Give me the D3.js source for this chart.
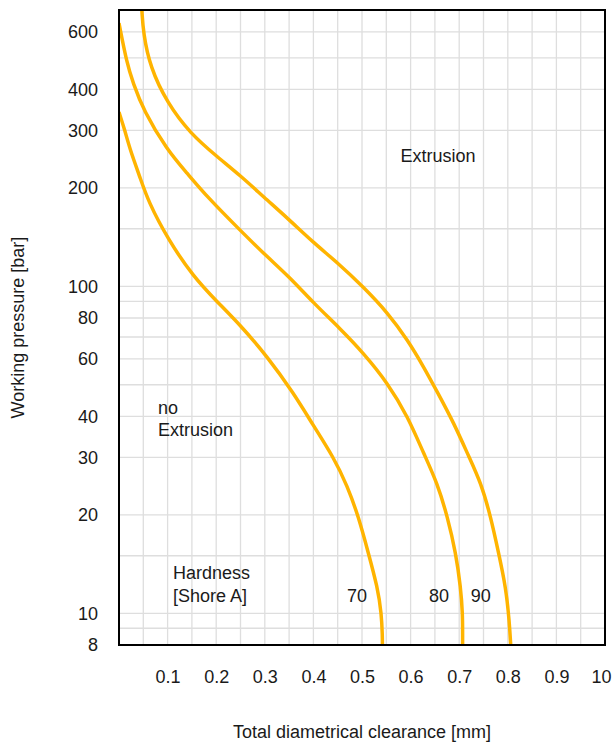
<!DOCTYPE html>
<html>
<head>
<meta charset="utf-8">
<script src="https://cdn.jsdelivr.net/npm/d3@7"></script>
<style>
    body { margin: 0; background: #fff; }
    svg text { font-family: "Liberation Sans", Arial, Helvetica, sans-serif; fill: #1a1a1a; }
</style>
</head>
<body>
<div id="chart"></div>
<script>
// clearance [mm] vs pressure [bar]
var hardness = ["70", "80", "90"];

var curve70 = [[0, 341], [0.012, 300], [0.023, 261], [0.043, 216], [0.06, 182], [0.101, 139], [0.153, 107],
    [0.201, 90], [0.25, 76], [0.305, 61], [0.359, 47.2], [0.4, 37.5],
    [0.441, 30.1], [0.47, 24.5], [0.493, 19.7], [0.513, 15.3],
    [0.532, 12.0], [0.54, 10.0], [0.542, 8.5], [0.542, 8]];

var curve80 = [[0, 638], [0.016, 482], [0.029, 419], [0.05, 346], [0.099, 261], [0.14, 222],
    [0.181, 188], [0.25, 148], [0.305, 123], [0.35, 107], [0.4, 89], [0.456, 74],
    [0.503, 62.5], [0.553, 50.6], [0.594, 40], [0.627, 30.8],
    [0.655, 25], [0.676, 19.7], [0.693, 15.3], [0.703, 12.0], [0.707, 10.0], [0.707, 8.5], [0.707, 8]];

var curve90 = [[0.047, 700], [0.05, 595], [0.064, 468], [0.099, 364], [0.146, 294], [0.202, 249],
    [0.25, 218], [0.297, 188], [0.35, 160], [0.4, 136], [0.45, 118], [0.503, 99.5],
    [0.553, 83], [0.594, 68.5], [0.627, 56.7], [0.656, 47.2], [0.689, 38.2],
    [0.72, 30.1], [0.745, 25], [0.765, 19.7], [0.781, 15.3], [0.796, 12.0], [0.803, 9.5], [0.806, 8]];

var curves = [curve70, curve80, curve90];

var xGrid = d3.range(1, 20).map(function (i) { return i * 0.05; });
var xTickValues = [0.1, 0.2, 0.3, 0.4, 0.5, 0.6, 0.7, 0.8, 0.9, 1.0];
var xTickLabels = ["0.1", "0.2", "0.3", "0.4", "0.5", "0.6", "0.7", "0.8", "0.9", "10"];

var yGrid = [9, 10, 15, 20, 30, 40, 50, 60, 70, 80, 90, 100, 150, 200, 300, 400, 500, 600];
var yTickValues = [8, 10, 20, 30, 40, 60, 80, 100, 200, 300, 400, 600];

// text notes placed at [clearance, pressure] of their first baseline
var notes = [
    {lines: ["Extrusion"], at: [0.579, 240]},
    {lines: ["no", "Extrusion"], at: [0.08, 40.7]},
    {lines: ["Hardness", "[Shore A]"], at: [0.111, 12.7]},
    {lines: [hardness[0]], at: [0.469, 10.86]},
    {lines: [hardness[1]], at: [0.638, 10.86]},
    {lines: [hardness[2]], at: [0.724, 10.86]}
];

var width = 614, height = 742;
var margin = {left: 119, right: 9, top: 10, bottom: 97};

var svg = d3.select("#chart").append("svg")
    .attr("width", width)
    .attr("height", height);

var x = d3.scaleLinear().domain([0, 1]).range([margin.left, width - margin.right]);
var y = d3.scaleLog().domain([8, 700]).range([height - margin.bottom, margin.top]);

svg.append("defs").append("clipPath").attr("id", "plot-clip")
    .append("rect")
    .attr("x", x(0)).attr("y", y(700))
    .attr("width", x(1) - x(0)).attr("height", y(8) - y(700));

// grid
var grid = svg.append("g").attr("class", "grid")
    .attr("stroke", "#dedede")
    .attr("stroke-width", 1.3);

grid.selectAll("line.vx").data(xGrid).enter().append("line")
    .attr("class", "vx")
    .attr("x1", function (d) { return x(d); })
    .attr("x2", function (d) { return x(d); })
    .attr("y1", y(700)).attr("y2", y(8));

grid.selectAll("line.hy").data(yGrid).enter().append("line")
    .attr("class", "hy")
    .attr("x1", x(0)).attr("x2", x(1))
    .attr("y1", function (d) { return y(d); })
    .attr("y2", function (d) { return y(d); });

// curves, basis smoothing evens out the reading noise
var line = d3.line()
    .x(function (d) { return x(d[0]); })
    .y(function (d) { return y(d[1]); })
    .curve(d3.curveBasis);

svg.append("g").attr("clip-path", "url(#plot-clip)")
    .selectAll("path").data(curves).enter().append("path")
    .attr("d", line)
    .attr("fill", "none")
    .attr("stroke", "#ffb400")
    .attr("stroke-width", 3.5)
    .attr("stroke-linejoin", "round");

// frame
svg.append("rect")
    .attr("x", x(0)).attr("y", y(700))
    .attr("width", x(1) - x(0)).attr("height", y(8) - y(700))
    .attr("fill", "none")
    .attr("stroke", "#000")
    .attr("stroke-width", 2);

// axes (labels only, no tick marks)
var yAxis = d3.axisLeft(y)
    .tickValues(yTickValues)
    .tickFormat(d3.format("d"))
    .tickSize(0)
    .tickPadding(21);

svg.append("g")
    .attr("transform", "translate(" + x(0) + ",0)")
    .call(yAxis)
    .call(function (g) { g.select(".domain").remove(); })
    .selectAll("text")
    .attr("font-size", 18)
    .attr("fill", "#1a1a1a");

var xAxis = d3.axisBottom(x)
    .tickValues(xTickValues)
    .tickFormat(function (d, i) { return xTickLabels[i]; })
    .tickSize(0)
    .tickPadding(25);

svg.append("g")
    .attr("transform", "translate(0," + y(8) + ")")
    .call(xAxis)
    .call(function (g) { g.select(".domain").remove(); })
    .selectAll("text")
    .attr("font-size", 18)
    .attr("fill", "#1a1a1a")
    .attr("dx", function (d, i) { return i === xTickValues.length - 1 ? -4 : 0; });

svg.append("text")
    .attr("x", (x(0) + x(1)) / 2)
    .attr("y", 738)
    .attr("text-anchor", "middle")
    .attr("font-size", 18)
    .text("Total diametrical clearance [mm]");

svg.append("text")
    .attr("transform", "translate(24," + ((y(8) + y(700)) / 2) + ") rotate(-90)")
    .attr("text-anchor", "middle")
    .attr("font-size", 18)
    .text("Working pressure [bar]");

// notes
var noteText = svg.append("g").selectAll("text").data(notes).enter().append("text")
    .attr("x", function (d) { return x(d.at[0]); })
    .attr("y", function (d) { return y(d.at[1]); })
    .attr("font-size", 18);

noteText.selectAll("tspan").data(function (d) { return d.lines.map(function (l) { return {t: l, x: x(d.at[0])}; }); })
    .enter().append("tspan")
    .attr("x", function (d) { return d.x; })
    .attr("dy", function (d, i) { return i === 0 ? 0 : 22.4; })
    .text(function (d) { return d.t; });
</script>
</body>
</html>
